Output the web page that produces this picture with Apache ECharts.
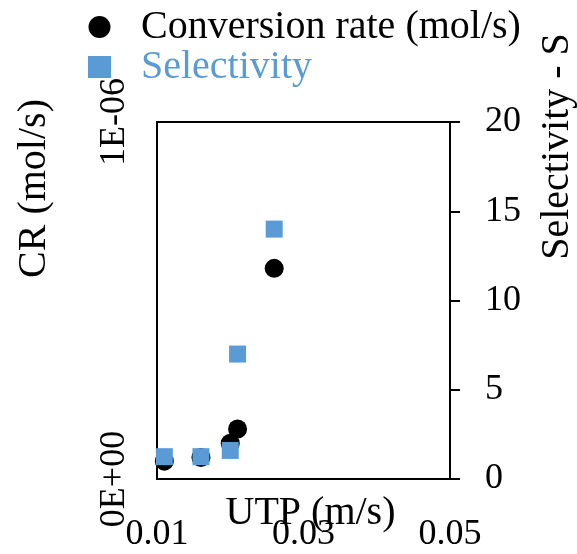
<!DOCTYPE html>
<html>
<head>
<meta charset="utf-8">
<script src="https://cdn.jsdelivr.net/npm/echarts@6/dist/echarts.min.js"></script>
<style>
  html, body { margin: 0; padding: 0; background: #fff; }
  #chart { width: 577px; height: 554px; }
</style>
</head>
<body>
<div id="chart"></div>
<script>
// values
var utp = [0.011, 0.016, 0.020, 0.021, 0.026];          // m/s
var convRate = [0.05e-6, 0.06e-6, 0.10e-6, 0.14e-6, 0.59e-6]; // mol/s
var selectivity = [1.25, 1.25, 1.6, 7.0, 14.0];
var xTicks = [0.01, 0.03, 0.05];
var crTickLabels = ['0E+00', '1E-06'];

var font = 'Liberation Serif';
var blue = '#5B9BD5';

function pairs(xs, ys) {
    var out = [];
    for (var i = 0; i < xs.length; i++) out.push([xs[i], ys[i]]);
    return out;
}

var chart = echarts.init(document.getElementById('chart'));

chart.setOption({
    animation: false,
    textStyle: { fontFamily: font, color: '#000' },
    grid: {
        left: 157, right: 127, top: 122, bottom: 75,
        outerBoundsMode: 'none',
        containLabel: false,
        show: true, borderColor: '#000', borderWidth: 2
    },
    legend: {
        orient: 'vertical',
        left: 83, top: 2,
        itemWidth: 23, itemHeight: 22,
        itemGap: 0,
        textStyle: { fontFamily: font, fontSize: 40, lineHeight: 40, padding: [0, 0, 0, 25] },
        data: [
            { name: 'Conversion rate (mol/s)', icon: 'circle', textStyle: { color: '#000' } },
            { name: 'Selectivity', icon: 'rect', textStyle: { color: blue } }
        ]
    },
    xAxis: {
        type: 'value',
        min: xTicks[0], max: xTicks[xTicks.length - 1], interval: 0.02,
        name: 'UTP (m/s)',
        nameLocation: 'middle',
        nameGap: 14,
        nameMoveOverlap: false,
        nameTextStyle: { fontFamily: font, fontSize: 40, color: '#000', padding: [0, 0, 0, 14] },
        axisLine: { show: true, lineStyle: { color: '#000', width: 2 } },
        axisTick: { show: false },
        splitLine: { show: false },
        axisLabel: {
            fontFamily: font, fontSize: 36, color: '#000', margin: 38,
            formatter: function (v) { return v.toFixed(2); }
        }
    },
    yAxis: [
        {
            type: 'value', min: 0, max: 1e-6, interval: 1e-6,
            position: 'left',
            name: 'CR (mol/s)',
            nameLocation: 'middle',
            nameGap: 103,
            nameMoveOverlap: false,
            nameTextStyle: { fontFamily: font, fontSize: 40, color: '#000', padding: [0, 0, 0, 224] },
            axisLine: { show: true, lineStyle: { color: '#000', width: 2 } },
            axisTick: { show: false },
            splitLine: { show: false },
            axisLabel: {
                fontFamily: font, fontSize: 36, color: '#000', rotate: 90, margin: 24,
                formatter: function (v) { return v === 0 ? crTickLabels[0] : crTickLabels[1]; }
            }
        },
        {
            type: 'value', min: 0, max: 20, interval: 5,
            position: 'right',
            name: 'Selectivity - S',
            nameLocation: 'middle',
            nameGap: 87,
            nameMoveOverlap: false,
            nameTextStyle: { fontFamily: font, fontSize: 40, color: '#000', padding: [0, 0, 0, 308] },
            axisLine: { show: true, lineStyle: { color: '#000', width: 2 } },
            axisTick: { show: true, inside: false, length: 10, lineStyle: { color: '#000', width: 2 } },
            splitLine: { show: false },
            axisLabel: { fontFamily: font, fontSize: 36, color: '#000', margin: 35 }
        }
    ],
    series: [
        {
            name: 'Conversion rate (mol/s)',
            type: 'scatter',
            yAxisIndex: 0,
            symbol: 'circle',
            symbolSize: 19,
            itemStyle: { color: '#000', opacity: 1 },
            data: pairs(utp, convRate)
        },
        {
            name: 'Selectivity',
            type: 'scatter',
            yAxisIndex: 1,
            symbol: 'rect',
            symbolSize: 17,
            itemStyle: { color: blue, opacity: 1 },
            data: pairs(utp, selectivity)
        }
    ]
});
</script>
</body>
</html>
